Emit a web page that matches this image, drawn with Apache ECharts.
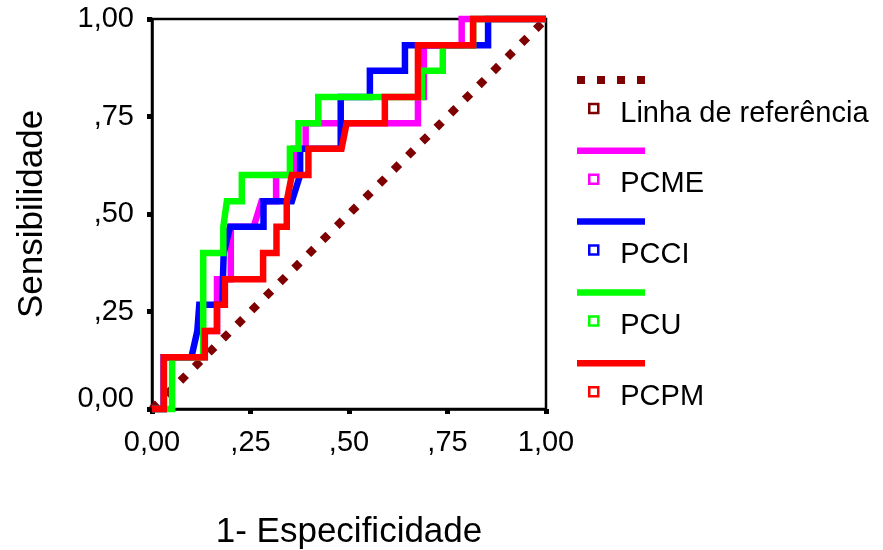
<!DOCTYPE html>
<html>
<head>
<meta charset="utf-8">
<script src="https://cdn.jsdelivr.net/npm/echarts@6/dist/echarts.min.js"></script>
<style>
  html, body { margin: 0; padding: 0; background: #fff; }
  #chart { width: 883px; height: 550px; }
</style>
</head>
<body>
<div id="chart"></div>
<script>
var seriesNames = ['Linha de referência', 'PCME', 'PCCI', 'PCU', 'PCPM'];
var seriesColors = ['#7f0000', '#ff00ff', '#0000ff', '#00ff00', '#ff0000'];
var tickLabels = ['0,00', ',25', ',50', ',75', '1,00'];

// 1 - especificidade (x) / sensibilidade (y)
var refX = [0, 1];
var refY = [0, 1];

var pcmeX = [0, 0.03, 0.03, 0.134, 0.134, 0.165, 0.165, 0.2, 0.2, 0.258, 0.278, 0.315, 0.315, 0.36, 0.36, 0.39, 0.39, 0.675, 0.675, 0.69, 0.69, 0.786, 0.786, 1];
var pcmeY = [0, 0, 0.133, 0.133, 0.2, 0.2, 0.333, 0.333, 0.467, 0.467, 0.533, 0.533, 0.6, 0.6, 0.667, 0.667, 0.733, 0.733, 0.8, 0.8, 0.933, 0.933, 1, 1];

var pcciX = [0, 0.03, 0.03, 0.1, 0.115, 0.12, 0.12, 0.178, 0.182, 0.198, 0.283, 0.283, 0.355, 0.376, 0.376, 0.479, 0.479, 0.553, 0.553, 0.642, 0.642, 0.853, 0.853, 1];
var pcciY = [0, 0, 0.133, 0.133, 0.2, 0.2, 0.267, 0.267, 0.4, 0.467, 0.467, 0.533, 0.533, 0.6, 0.667, 0.667, 0.8, 0.8, 0.867, 0.867, 0.933, 0.933, 1, 1];

var pcuX = [0, 0.051, 0.051, 0.13, 0.13, 0.181, 0.181, 0.19, 0.228, 0.228, 0.35, 0.35, 0.372, 0.372, 0.422, 0.422, 0.685, 0.685, 0.738, 0.738, 0.815, 0.815, 1];
var pcuY = [0, 0, 0.133, 0.133, 0.4, 0.4, 0.467, 0.533, 0.533, 0.6, 0.6, 0.667, 0.667, 0.733, 0.733, 0.8, 0.8, 0.867, 0.867, 0.933, 0.933, 1, 1];

var pcpmX = [0, 0.03, 0.03, 0.134, 0.134, 0.165, 0.165, 0.185, 0.185, 0.282, 0.282, 0.316, 0.316, 0.342, 0.342, 0.355, 0.397, 0.397, 0.481, 0.494, 0.591, 0.591, 0.675, 0.675, 0.815, 0.815, 1];
var pcpmY = [0, 0, 0.133, 0.133, 0.2, 0.2, 0.267, 0.267, 0.333, 0.333, 0.4, 0.4, 0.467, 0.467, 0.533, 0.6, 0.6, 0.667, 0.667, 0.733, 0.733, 0.8, 0.8, 0.933, 0.933, 1, 1];

var FONT = 'Liberation Sans';

function pairs(xs, ys) {
    return xs.map(function (x, i) { return [x, ys[i]]; });
}

function tickFmt(value) {
    return tickLabels[Math.round(value * 4)];
}

var myChart;
function initChart() {
    var chartDom = document.getElementById('chart');
    myChart = echarts.init(chartDom, null, { renderer: 'canvas' });

    var allData = [
        pairs(refX, refY),
        pairs(pcmeX, pcmeY),
        pairs(pcciX, pcciY),
        pairs(pcuX, pcuY),
        pairs(pcpmX, pcpmY)
    ];

    var series = seriesNames.map(function (name, i) {
        return {
            name: name,
            type: 'line',
            data: allData[i],
            symbol: 'none',
            clip: false,
            color: seriesColors[i],
            lineStyle: i === 0
                ? { color: seriesColors[i], width: 8, type: [8, 12] }
                : { color: seriesColors[i], width: 6.5, join: 'miter' },
            z: 2 + i
        };
    });

    var axisCommon = {
        type: 'value',
        min: 0,
        max: 1,
        interval: 0.25,
        nameLocation: 'middle',
        nameTextStyle: { fontFamily: FONT, fontSize: 35, color: '#000' },
        axisLine: { show: true, lineStyle: { color: '#000', width: 2.5 } },
        axisTick: { show: true, length: 5, lineStyle: { color: '#000', width: 5 } },
        axisLabel: { fontFamily: FONT, fontSize: 29, color: '#000', formatter: tickFmt },
        splitLine: { show: false }
    };

    var option = {
        animation: false,
        backgroundColor: '#fff',
        grid: {
            left: 152,
            right: 337,
            top: 19,
            bottom: 141,
            outerBoundsMode: 'none',
            show: true,
            borderColor: '#000',
            borderWidth: 2.5,
            backgroundColor: 'transparent'
        },
        xAxis: Object.assign({}, axisCommon, {
            name: '1- Especificidade',
            nameGap: 106,
            axisLabel: Object.assign({}, axisCommon.axisLabel, { margin: 19 })
        }),
        yAxis: Object.assign({}, axisCommon, {
            name: 'Sensibilidade',
            nameGap: 102,
            nameRotate: 90,
            axisLabel: Object.assign({}, axisCommon.axisLabel, {
                margin: 18,
                // the bottom label sits a little higher than its tick
                formatter: function (value) {
                    var s = tickFmt(value);
                    return value === 0 ? '{low|' + s + '}' : s;
                },
                rich: { low: { fontFamily: FONT, fontSize: 29, color: '#000', padding: [0, 0, 20, 0] } }
            })
        }),
        legend: [
            {
                data: seriesNames,
                orient: 'vertical',
                left: 568,
                top: 71,
                itemWidth: 68,
                itemHeight: 10,
                itemGap: 62.8,
                formatter: function () { return ''; },
                textStyle: { fontSize: 10, lineHeight: 10 },
                lineStyle: { width: 'inherit' },
                itemStyle: { opacity: 0 },
                selectedMode: false
            },
            {
                data: seriesNames.map(function (name, i) {
                    return {
                        name: name,
                        icon: 'rect',
                        itemStyle: { color: '#fff', borderColor: seriesColors[i], borderWidth: 2.5 }
                    };
                }),
                orient: 'vertical',
                left: 583,
                top: 94,
                itemWidth: 9,
                itemHeight: 9,
                itemGap: 41.8,
                formatter: function (name) { return '{t|' + name + '}'; },
                textStyle: {
                    fontFamily: FONT, fontSize: 29, color: '#000', padding: [0, 0, 0, 17],
                    rich: { t: { fontFamily: FONT, fontSize: 29, color: '#000', padding: [10, 0, 0, 0] } }
                },
                selectedMode: false
            }
        ],
        series: series
    };

    option && myChart.setOption(option);
}

document.addEventListener('DOMContentLoaded', function () {
    initChart();
});
</script>
</body>
</html>
